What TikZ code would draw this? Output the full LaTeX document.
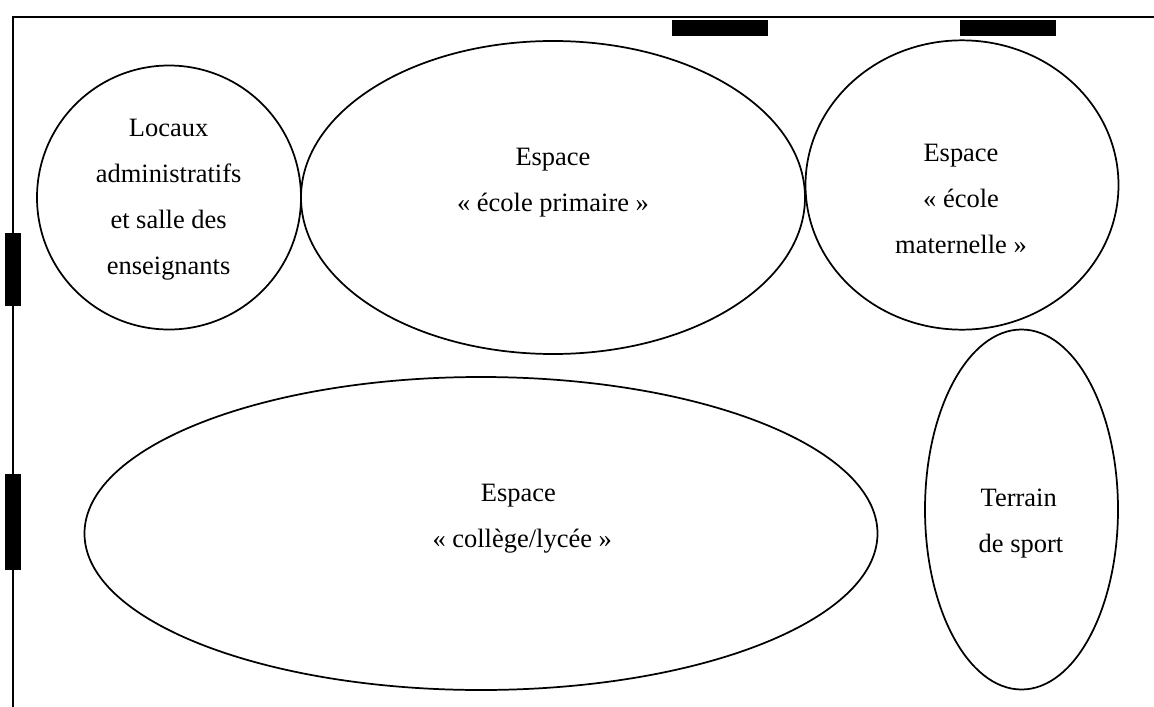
\documentclass[tikz,border=0pt]{standalone}
\usepackage{fontspec}
\setmainfont{Liberation Serif}
\usetikzlibrary{shapes.geometric}
\tikzset{room/.style={draw=black,line width=1.3pt,ellipse,inner sep=0pt,outer sep=0pt},
 roomtext/.style={inner sep=0pt,outer sep=0pt,align=center,anchor=base,font=\fontsize{19.85pt}{34.4pt}\selectfont},
 door/.style={fill=black,draw=none,inner sep=0pt,outer sep=0pt}}
\begin{document}
\begin{tikzpicture}[x=0.75pt,y=-0.75pt]
\useasboundingbox (0,0) rectangle (1154,707);
\coordinate (tl) at (13.2,17);
\coordinate (tr) at (1154,17);
\coordinate (bl) at (13.2,707);
\draw[line width=1.2pt] (tr) -- (tl) -- (bl);
\node[door,minimum width=72pt,minimum height=12pt] (d1) at (720,28) {};
\node[door,minimum width=72pt,minimum height=12pt] (d2) at (1008,28) {};
\node[door,minimum width=12pt,minimum height=54.75pt] (d3) at (13,269.5) {};
\node[door,minimum width=12pt,minimum height=72pt] (d4) at (13,521.5) {};
\node[room,minimum width=198pt,minimum height=198pt] (a) at (169,197.5) {};
\node[room,minimum width=378pt,minimum height=234.75pt] (b) at (553,197.5) {};
\node[room,minimum width=234.75pt,minimum height=217pt] (c) at (962,185) {};
\node[room,minimum width=594.75pt,minimum height=234.75pt] (d) at (481,533.5) {};
\node[room,minimum width=144.75pt,minimum height=270pt] (e) at (1021.5,509.5) {};
\node[roomtext] (ta) at (168.6,274.5) {Locaux\\administratifs\\et salle des\\enseignants};
\node[roomtext] (tb) at (553,211.7) {Espace\\« école primaire »};
\node[roomtext] (tc) at (961,253.3) {Espace\\« école\\maternelle »};
\node[roomtext] (td) at (522.2,547.7) {Espace\hspace*{5.7pt}\\« collège/lycée »};
\node[roomtext] (te) at (1021,552.7) {Terrain\hspace*{3.4pt}\\de sport};
\end{tikzpicture}
\end{document}
